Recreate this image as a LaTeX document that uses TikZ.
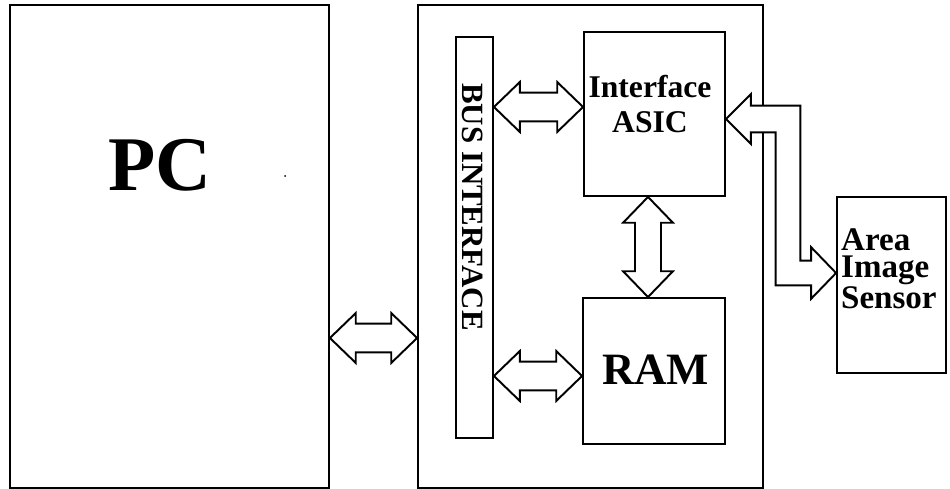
\documentclass[tikz,border=0pt]{standalone}
\usepackage{fontspec}
\setmainfont{Liberation Serif}
\usepackage{tikz}
\usetikzlibrary{calc, positioning}

% hollow double block arrows (head length, head half width, shaft half width)
\newcommand{\hollowH}[2]{%
  \draw[hollow] let \p1=#1, \p2=#2 in
    (\x1,\y2) -- (\x1+14.7pt,\y2+14.2pt) -- (\x1+14.7pt,\y2+8.2pt) -- (\x2-14.7pt,\y2+8.2pt)
    -- (\x2-14.7pt,\y2+14.2pt) -- (\x2,\y2) -- (\x2-14.7pt,\y2-14.2pt) -- (\x2-14.7pt,\y2-8.2pt)
    -- (\x1+14.7pt,\y2-8.2pt) -- (\x1+14.7pt,\y2-14.2pt) -- cycle;}
\newcommand{\hollowV}[2]{%
  \draw[hollow] let \p1=#1, \p2=#2 in
    (\x1,\y1) -- (\x1+14.2pt,\y1-14.7pt) -- (\x1+7.4pt,\y1-14.7pt) -- (\x1+7.4pt,\y2+14.7pt)
    -- (\x1+14.2pt,\y2+14.7pt) -- (\x1,\y2) -- (\x1-14.2pt,\y2+14.7pt) -- (\x1-7.4pt,\y2+14.7pt)
    -- (\x1-7.4pt,\y1-14.7pt) -- (\x1-14.2pt,\y1-14.7pt) -- cycle;}

\begin{document}
\begin{tikzpicture}[x=0.02cm, y=-0.02cm,
    blk/.style={draw, line width=1.1pt, inner sep=0pt, fill=white},
    hollow/.style={draw, line width=1.1pt, fill=white, line join=miter},
    big/.style={font=\fontsize{44}{48}\selectfont\bfseries},
    mid/.style={font=\fontsize{18}{19.8}\selectfont\bfseries}]
    \useasboundingbox (0,0) rectangle (950,489);
    % boxes
    \node[blk, minimum width=6.9cm, minimum height=9.66cm] (board) at (590.5,246.5) {};
    \node[blk, minimum width=6.38cm, minimum height=9.66cm] (pc) at (169.5,246.5) {};
    \node[blk, minimum width=0.74cm, minimum height=8.02cm] (bus) at (474.5,237.5) {};
    \node[blk, minimum width=2.82cm, minimum height=3.28cm] (asic) at (654.5,114) {};
    \node[blk, minimum width=2.84cm, minimum height=2.92cm] (ram) at (654,371) {};
    \node[blk, minimum width=2.18cm, minimum height=3.52cm] (sensor) at (891.5,285) {};
    \coordinate (turn) at (788,0);
    % connectors
    \hollowH{(pc.east)}{($(board.west)+(0,91.5)$)}
    \hollowH{(bus.east)}{($(asic.west)+(0,-7)$)}
    \hollowH{(bus.east)}{($(ram.west)+(0,5)$)}
    \hollowV{($(asic.south)+(-6.5,0)$)}{($(ram.north)+(-6,0)$)}
    \draw[hollow] let \p1=($(asic.east)+(0,5)$), \p2=($(sensor.west)+(0,-12)$), \p3=(turn) in
      (\x1,\y1) -- (\x1+14.2pt,\y1+14.2pt) -- (\x1+14.2pt,\y1+7.6pt) -- (\x3+7pt,\y1+7.6pt)
      -- (\x3+7pt,\y2+7pt) -- (\x2-14.2pt,\y2+7pt) -- (\x2-14.2pt,\y2+14.7pt) -- (\x2,\y2)
      -- (\x2-14.2pt,\y2-14.7pt) -- (\x2-14.2pt,\y2-7pt) -- (\x3-7pt,\y2-7pt)
      -- (\x3-7pt,\y1-7.6pt) -- (\x1+14.2pt,\y1-7.6pt) -- (\x1+14.2pt,\y1-14.2pt) -- cycle;
    % labels
    \node[big] (pctext) at (160,165) {PC};
    \node[mid, align=center] (asictext) at (650,104) {Interface\\ASIC};
    \node[big, font=\fontsize{25.5}{28}\selectfont\bfseries] (ramtext) at (655.5,370) {RAM};
    \node[mid, align=left, anchor=north west, font=\fontsize{18.8}{15.8}\selectfont\bfseries] (sensortext) at (835,222) {Area\\Image\\Sensor};
    \node[font=\fontsize{17.6}{19}\selectfont\bfseries, rotate=-90] (bustext) at (473,207) {BUS INTERFACE};
    \fill (285,176) circle (1);
\end{tikzpicture}
\end{document}
